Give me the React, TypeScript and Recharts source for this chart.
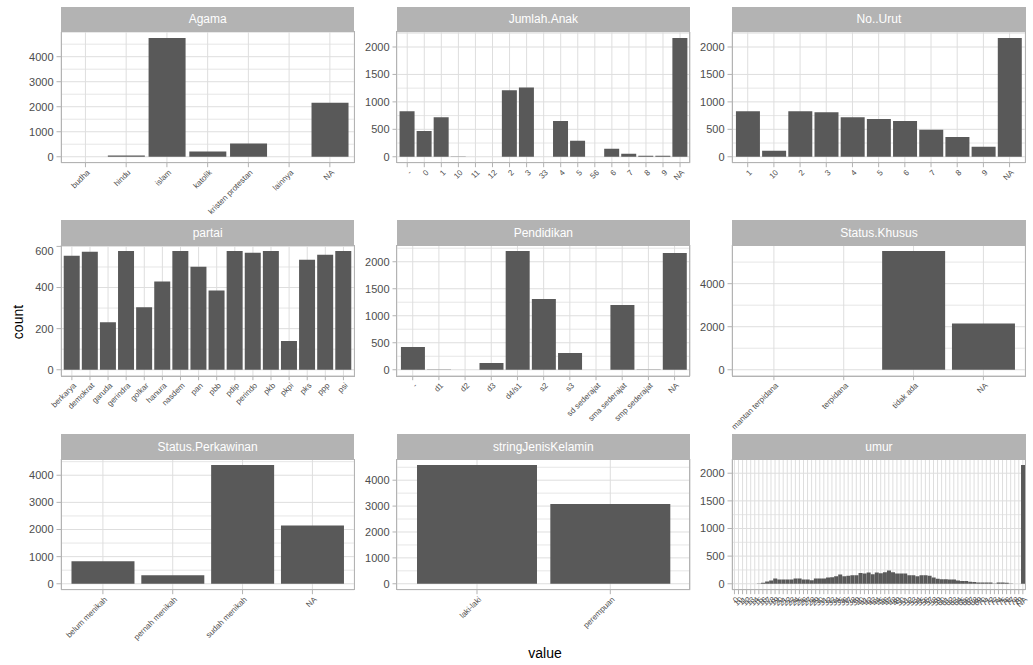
import React from 'react';
import { BarChart, Bar, XAxis, YAxis, CartesianGrid } from 'recharts';

// category labels and counts per facet
const agamaCats = ['budha', 'hindu', 'islam', 'katolik', 'kristen protestan', 'lainnya', 'NA'];
const agamaCounts = [4, 55, 4750, 210, 530, 3, 2160];

const anakCats = ['-', '0', '1', '10', '11', '12', '2', '3', '33', '4', '5', '56', '6', '7', '8', '9', 'NA'];
const anakCounts = [830, 470, 720, 3, 2, 2, 1210, 1260, 1, 650, 290, 1, 145, 55, 20, 18, 2165];

const urutCats = ['1', '10', '2', '3', '4', '5', '6', '7', '8', '9', 'NA'];
const urutCounts = [830, 110, 830, 810, 720, 690, 650, 490, 360, 180, 2165];

const partaiCats = ['berkarya', 'demokrat', 'garuda', 'gerindra', 'golkar', 'hanura', 'nasdem', 'pan', 'pbb', 'pdip', 'perindo', 'pkb', 'pkpi', 'pks', 'ppp', 'psi'];
const partaiCounts = [554, 574, 231, 578, 304, 429, 578, 501, 386, 578, 569, 578, 140, 535, 559, 578];

const pendidikanCats = ['-', 'd1', 'd2', 'd3', 'd4/s1', 's2', 's3', 'sd sederajat', 'sma sederajat', 'smp sederajat', 'NA'];
const pendidikanCounts = [420, 3, 2, 127, 2200, 1310, 310, 2, 1200, 4, 2160];

const khususCats = ['mantan terpidana', 'terpidana', 'tidak ada', 'NA'];
const khususCounts = [2, 3, 5520, 2150];

const kawinCats = ['belum menikah', 'pernah menikah', 'sudah menikah', 'NA'];
const kawinCounts = [830, 310, 4380, 2150];

const kelaminCats = ['laki-laki', 'perempuan'];
const kelaminCounts = [4590, 3080];

const umurCats = [
  '0', '10', '11', '12', '13', '14', '15',
  '16', '17', '18', '19', '20', '21', '22', '23', '24', '25', '26', '27', '28', '29',
  '30', '31', '32', '33', '34', '35', '36', '37', '38', '39',
  '40', '41', '42', '43', '44', '45', '46', '47', '48', '49',
  '50', '51', '52', '53', '54', '55', '56', '57', '58', '59',
  '60', '61', '62', '63', '64', '65', '66', '67', '68', '69',
  '70', '71', '72', '73', '74', '75', '76', '77', '78', '79', 'NA',
];
const umurCounts = [
  1, 1, 2, 1, 2, 1, 3,
  18, 40, 60, 95, 77, 77, 77, 77, 95, 95, 77, 77, 65, 95,
  95, 95, 113, 119, 137, 167, 137, 143, 155, 155,
  196, 184, 202, 173, 202, 190, 208, 238, 208, 184,
  184, 184, 155, 155, 137, 155, 155, 143, 113, 89,
  83, 83, 77, 77, 60, 48, 48, 36, 30, 24,
  24, 24, 24, 5, 24, 22, 18, 3, 2, 1, 2150,
];

// y breaks per facet
const ticks4k = [0, 1000, 2000, 3000, 4000];
const minor4k = [500, 1500, 2500, 3500, 4500];
const ticks2k = [0, 500, 1000, 1500, 2000];
const minor2k = [250, 750, 1250, 1750, 2250];
const ticksPartai = [0, 200, 400, 600];
const minorPartai = [100, 300, 500];
const ticksKhusus = [0, 2000, 4000];
const minorKhusus = [1000, 3000, 5000];

const panels = [
  { title: 'Agama', cats: agamaCats, counts: agamaCounts, ticks: ticks4k, minor: minor4k },
  { title: 'Jumlah.Anak', cats: anakCats, counts: anakCounts, ticks: ticks2k, minor: minor2k },
  { title: 'No..Urut', cats: urutCats, counts: urutCounts, ticks: ticks2k, minor: minor2k },
  { title: 'partai', cats: partaiCats, counts: partaiCounts, ticks: ticksPartai, minor: minorPartai },
  { title: 'Pendidikan', cats: pendidikanCats, counts: pendidikanCounts, ticks: ticks2k, minor: minor2k },
  { title: 'Status.Khusus', cats: khususCats, counts: khususCounts, ticks: ticksKhusus, minor: minorKhusus },
  { title: 'Status.Perkawinan', cats: kawinCats, counts: kawinCounts, ticks: ticks4k, minor: minor4k },
  { title: 'stringJenisKelamin', cats: kelaminCats, counts: kelaminCounts, ticks: ticks4k, minor: minor4k },
  { title: 'umur', cats: umurCats, counts: umurCounts, ticks: ticks2k, minor: minor2k },
];

const FONT = 'Arial, "Liberation Sans", sans-serif';
const COLS = [61, 396.7, 732.3];
const ROWS = [31.7, 245.4, 459.3];
const PW = 293.3;
const PH = 130.7;
const STRIP = 25;
const YW = 44;
const XH = 90;
const RPAD = 8;

function SlantTick({ x, y, payload }: any) {
  return (
    <text
      x={x}
      y={y}
      dy="0.85em"
      textAnchor="end"
      fontSize={8}
      fill="#4D4D4D"
      fontFamily={FONT}
      transform={`rotate(-45 ${x} ${y})`}
    >
      {payload.value}
    </text>
  );
}

function Facet({ p, col, row }: any) {
  const data = p.cats.map((c: string, i: number) => ({ cat: c, count: p.counts[i] }));
  const max = Math.max(...p.counts);
  const domain = [-0.05 * max, 1.05 * max];
  const pad = (0.1 * PW) / (p.cats.length + 0.2);
  const left = COLS[col];
  const top = ROWS[row];
  return (
    <>
      <div
        style={{
          position: 'absolute',
          left,
          top: top - STRIP,
          width: PW,
          height: STRIP,
          background: '#B3B3B3',
          color: '#fff',
          fontSize: 12,
          display: 'flex',
          alignItems: 'center',
          justifyContent: 'center',
        }}
      >
        {p.title}
      </div>
      <div style={{ position: 'absolute', left: left - YW, top }}>
        <BarChart
          width={YW + PW + RPAD}
          height={PH + XH}
          data={data}
          margin={{ top: 0, right: RPAD, bottom: 0, left: 0 }}
          barCategoryGap="5%"
        >
          <CartesianGrid yAxisId="minor" vertical={false} stroke="#E6E6E6" />
          <CartesianGrid stroke="#DEDEDE" />
          <XAxis
            dataKey="cat"
            interval={0}
            padding={{ left: pad, right: pad }}
            tick={<SlantTick />}
            tickLine={{ stroke: '#B3B3B3' }}
            axisLine={false}
            tickSize={4.5}
            tickMargin={1}
            height={XH}
          />
          <YAxis
            type="number"
            domain={domain}
            ticks={p.ticks}
            allowDataOverflow
            width={YW}
            axisLine={false}
            tickLine={{ stroke: '#B3B3B3' }}
            tickSize={4.5}
            tickMargin={3}
            tick={{ fontSize: 11, fill: '#4D4D4D', fontFamily: FONT }}
          />
          <YAxis yAxisId="minor" type="number" hide domain={domain} ticks={p.minor} allowDataOverflow />
          <Bar dataKey="count" fill="#595959" isAnimationActive={false} />
        </BarChart>
      </div>
      <div
        style={{
          position: 'absolute',
          left: left - 0.5,
          top: top - 0.5,
          width: PW + 1,
          height: PH + 1,
          border: '1px solid #B3B3B3',
          boxSizing: 'border-box',
          pointerEvents: 'none',
        }}
      />
    </>
  );
}

export default function App() {
  return (
    <div
      style={{
        position: 'absolute',
        left: 0,
        top: 0,
        width: 1033,
        height: 665,
        background: '#fff',
        fontFamily: FONT,
        overflow: 'hidden',
      }}
    >
      {panels.map((p, k) => (
        <Facet key={p.title} p={p} col={k % 3} row={Math.floor(k / 3)} />
      ))}
      <div
        style={{
          position: 'absolute',
          left: 18,
          top: 322,
          transform: 'translate(-50%, -50%) rotate(-90deg)',
          fontSize: 14,
          color: '#000',
        }}
      >
        count
      </div>
      <div
        style={{
          position: 'absolute',
          left: 545,
          top: 653,
          transform: 'translate(-50%, -50%)',
          fontSize: 14,
          color: '#000',
        }}
      >
        value
      </div>
    </div>
  );
}
